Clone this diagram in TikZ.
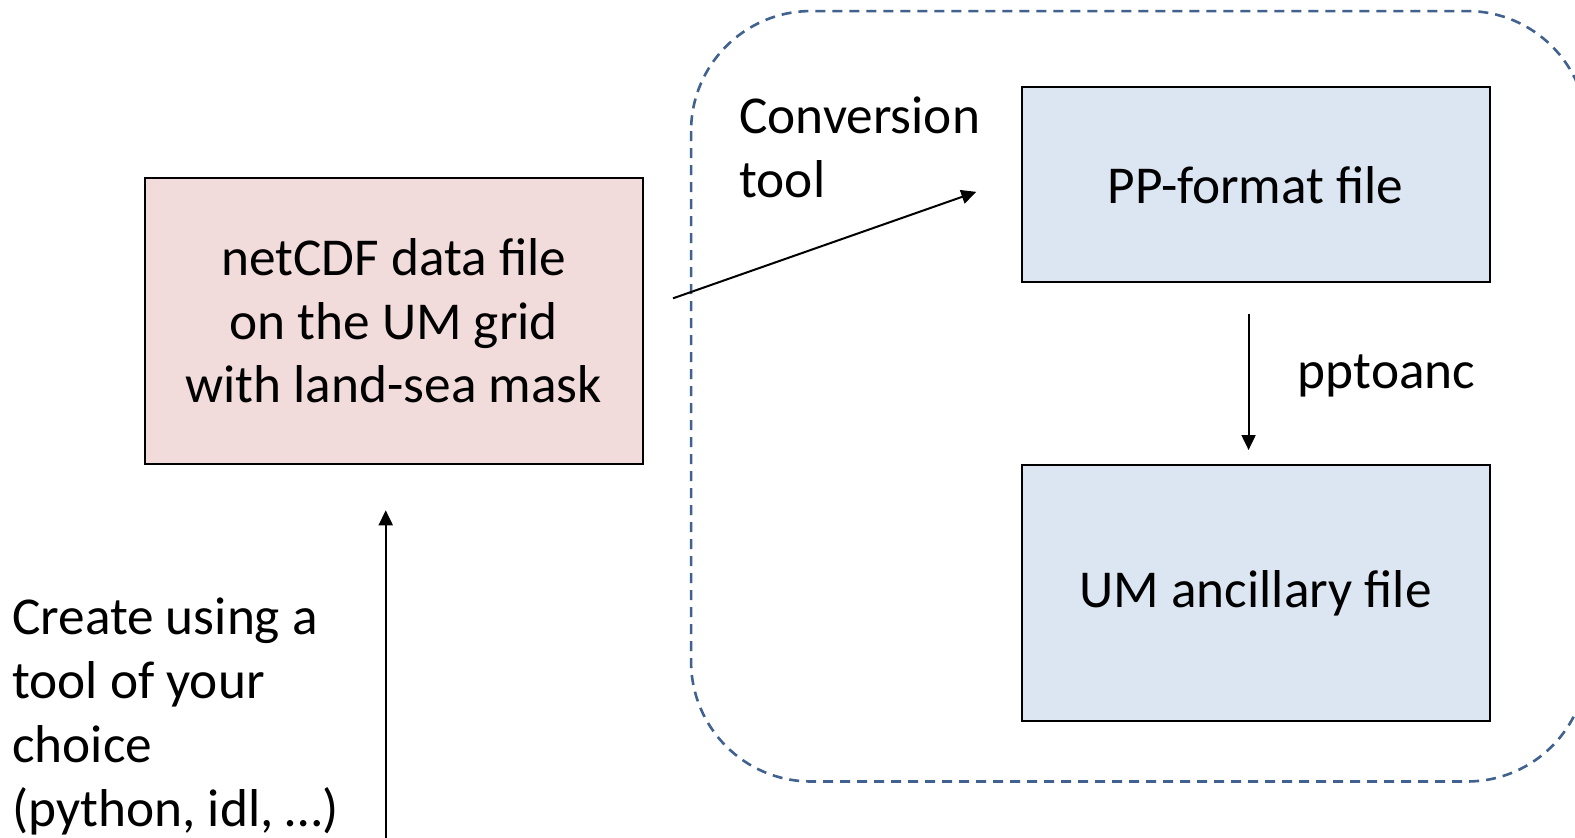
\documentclass[tikz,border=0pt]{standalone}
\usepackage{fontspec}
\setmainfont{Carlito}
\usetikzlibrary{arrows.meta}
\definecolor{pinkfill}{HTML}{F2DCDB}
\definecolor{bluefill}{HTML}{DCE6F2}
\definecolor{dashblue}{HTML}{41628F}
\tikzset{
  filebox/.style={draw=black, line width=2pt, inner sep=0pt, align=center, font=\fontsize{53.3}{63.5}\selectfont},
  lbl/.style={inner sep=0pt, align=left, anchor=west, font=\fontsize{53.3}{64}\selectfont},
  conn/.style={line width=2pt, -{Triangle[length=15pt,width=14pt]}},
  groupbox/.style={draw=dashblue, line width=2.6pt, dash pattern=on 10pt off 7pt, rounded corners=120pt}
}
\begin{document}
\begin{tikzpicture}[x=1.00446pt,y=-1.00446pt]
\useasboundingbox (0,0) rectangle (1568,834);
\fill[white] (0,0) rectangle (1568,834);
\draw[groupbox] (688,11) rectangle (1580,778);
\node[filebox, fill=pinkfill, minimum width=498pt, minimum height=286pt] (nc) at (392,319.5) {netCDF data file\\on the UM grid\\with land-sea mask};
\node[filebox, fill=bluefill, minimum width=468pt, minimum height=195pt] (pp) at (1250,184) {\raisebox{-2pt}{PP-format file}};
\node[filebox, fill=bluefill, minimum width=468pt, minimum height=256pt] (anc) at (1250,590.5) {\raisebox{-6pt}{UM ancillary file}};
\node[lbl] (convlbl) at (736,147) {Conversion\\tool};
\node[lbl] (pplbl) at (1292,374) {pptoanc};
\node[lbl] (createlbl) at (12,713) {Create using a\\tool of your\\choice\\(python, idl, \ldots)};
\coordinate (c1) at (670,297);
\coordinate (c2) at (972,191);
\coordinate (p1) at (1243,313);
\coordinate (p2) at (1243,448);
\coordinate (u1) at (384,840);
\coordinate (u2) at (384,508);
\draw[conn] (c1) -- (c2);
\draw[conn] (p1) -- (p2);
\draw[conn] (u1) -- (u2);
\end{tikzpicture}
\end{document}
